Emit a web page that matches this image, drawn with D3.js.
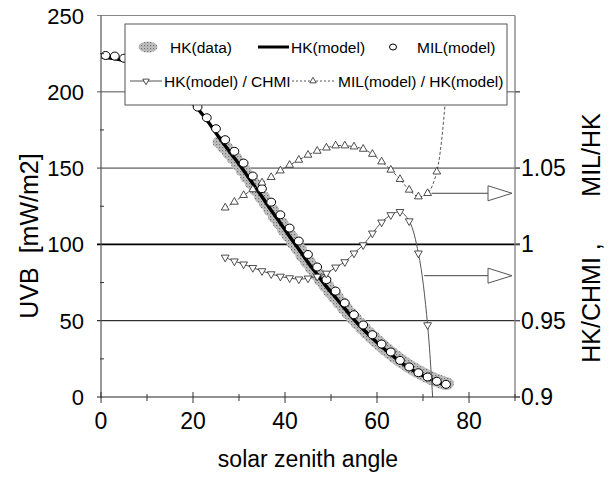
<!DOCTYPE html>
<html>
<head>
<meta charset="utf-8">
<script src="https://cdn.jsdelivr.net/npm/d3@7"></script>
<style>
  body { margin: 0; background: #fff; }
  text { font-family: "Liberation Sans", Arial, sans-serif; fill: #000; }
</style>
</head>
<body>
<svg id="chart" width="612" height="477"></svg>
<script>
// MIL(model), open circles every 2 degrees
var milX = [1, 3, 5, 7, 9, 11, 13, 15, 17, 19, 21, 23, 25, 27, 29, 31, 33, 35, 37, 39, 41, 43, 45, 47, 49, 51, 53, 55, 57, 59, 61, 63, 65, 67, 69, 71, 73, 75];
var milUVB = [223.8, 223.4, 222, 220.6, 218.5, 215.5, 211.8, 207.5, 202, 196.3, 190, 183, 175.8, 168.6, 161, 153.3, 144.8, 136.5, 127.7, 119.4, 110.7, 102.2, 93.4, 85.2, 76.9, 69.4, 61.6, 53.9, 47.2, 40.8, 34.7, 29.5, 24.0, 19.7, 15.9, 13.1, 10.3, 8.3];

// HK(model), thick black line
var modelX = [0, 5, 10, 15, 20, 21, 23, 25, 27, 29, 31, 33, 35, 37, 39, 41, 43, 45, 47, 49, 51, 53, 55, 57, 59, 61, 63, 65, 67, 69, 71, 73, 75];
var modelUVB = [223, 220.5, 215, 205.5, 192, 189, 181.5, 173, 164.6, 156.6, 148.5, 139.8, 131.2, 122.3, 113.9, 105.2, 96.8, 88.2, 80.3, 72.3, 65.2, 57.9, 50.7, 44.4, 38.5, 32.9, 28.1, 23.0, 19.0, 15.4, 12.7, 9.8, 7.5];

// HK(data), measured points (grey blob)
var dataX = [26, 27, 28, 29, 30, 31, 32, 33, 34, 35, 36, 37, 38, 39, 40, 41, 42, 43, 44, 45, 46, 47, 48, 49, 50, 51, 52, 53, 54, 55, 56, 57, 58, 59, 60, 61, 62, 63, 64, 65, 66, 67, 68, 69, 70, 71, 72, 73, 74, 75];
var dataUVB = [167, 163.5, 160, 156.5, 152.5, 148.5, 144, 140, 135.5, 131, 127, 122.5, 118, 114, 109.5, 105.5, 101, 97, 92.5, 88.5, 84.5, 80.5, 76.5, 72.8, 69, 65.5, 61.8, 58.3, 54.8, 51.5, 48.2, 45, 42, 39.2, 36.4, 33.8, 31.2, 28.8, 26.4, 24.2, 22.1, 20.1, 18.3, 16.6, 15, 13.5, 12.1, 10.9, 9.8, 8.8];

// ratios on the right axis
var chmiX = [27, 29, 31, 33, 35, 37, 39, 41, 43, 45, 47, 49, 51, 53, 55, 57, 59, 61, 63, 65, 67, 69, 71, 73];
var hkChmi = [0.9915, 0.989, 0.987, 0.9847, 0.9826, 0.9806, 0.979, 0.978, 0.9772, 0.9778, 0.979, 0.981, 0.985, 0.9885, 0.9942, 0.9996, 1.0073, 1.0145, 1.0193, 1.0214, 1.0153, 0.9942, 0.9472, 0.85];
var milHkX = [27, 29, 31, 33, 35, 37, 39, 41, 43, 45, 47, 49, 51, 53, 55, 57, 59, 61, 63, 65, 67, 69, 71, 73, 75];
var milHk = [1.024, 1.0278, 1.0322, 1.036, 1.0404, 1.044, 1.0483, 1.052, 1.0553, 1.0586, 1.0612, 1.0633, 1.0647, 1.0647, 1.064, 1.0625, 1.0592, 1.0542, 1.0488, 1.0427, 1.0357, 1.0313, 1.0335, 1.0476, 1.10];

var xTicks = [0, 20, 40, 60, 80];
var yTicks = [0, 50, 100, 150, 200, 250];
var rTicks = [0.9, 0.95, 1, 1.05];
var rTickLabels = ['0.9', '0.95', '1', '1.05'];

// arrows pointing to the right axis: start (x, ratio)
var arrowX = [71.2, 69.6];
var arrowR = [1.0335, 0.9795];

(function() {
  var svg = d3.select('#chart');
  var pl = 101, pr = 515, pt = 15.5, pb = 397;

  var x = d3.scaleLinear().domain([0, 90]).range([pl, pr]);
  var y = d3.scaleLinear().domain([0, 250]).range([pb, pt]);
  var yr = d3.scaleLinear().domain([0.9, 1.15]).range([pb, pt]);

  // stipple pattern for the measured data
  var defs = svg.append('defs');
  var pat = defs.append('pattern').attr('id', 'stip').attr('patternUnits', 'userSpaceOnUse')
    .attr('width', 3).attr('height', 3);
  pat.append('rect').attr('width', 3).attr('height', 3).attr('fill', '#c4c4c4');
  pat.append('rect').attr('width', 1.2).attr('height', 1.2).attr('fill', '#707070');
  pat.append('rect').attr('x', 1.5).attr('y', 1.5).attr('width', 1).attr('height', 1).attr('fill', '#999');
  defs.append('clipPath').attr('id', 'plot').append('rect')
    .attr('x', pl).attr('y', pt).attr('width', pr - pl).attr('height', pb - pt);

  // gridlines
  var gridStyle = {50: ['#000', 1], 100: ['#000', 1.6], 150: ['#8c8c8c', 1.6], 200: ['#8c8c8c', 1.6]};
  [50, 100, 150, 200].forEach(function(v) {
    svg.append('line').attr('x1', pl - 4).attr('x2', pr + 5)
      .attr('y1', y(v)).attr('y2', y(v))
      .attr('stroke', gridStyle[v][0]).attr('stroke-width', gridStyle[v][1]);
  });
  svg.append('line').attr('x1', pl - 4).attr('x2', pr).attr('y1', pt).attr('y2', pt)
    .attr('stroke', '#888').attr('stroke-width', 1.2);

  var plot = svg.append('g').attr('clip-path', 'url(#plot)');

  // HK(data) blob
  plot.append('g').selectAll('ellipse').data(dataX).enter().append('ellipse')
    .attr('cx', function(d) { return x(d); })
    .attr('cy', function(d, i) { return y(dataUVB[i]); })
    .attr('rx', 8).attr('ry', 6.5)
    .attr('fill', 'url(#stip)');

  // HK(model) line
  var line = d3.line().curve(d3.curveCatmullRom);
  plot.append('path')
    .attr('d', line(modelX.map(function(d, i) { return [x(d), y(modelUVB[i])]; })))
    .attr('fill', 'none').attr('stroke', '#000').attr('stroke-width', 3.4);

  // MIL(model) circles
  plot.append('g').selectAll('ellipse').data(milX).enter().append('ellipse')
    .attr('cx', function(d) { return x(d); })
    .attr('cy', function(d, i) { return y(milUVB[i]); })
    .attr('rx', 4.4).attr('ry', 4)
    .attr('fill', '#fff').attr('stroke', '#000').attr('stroke-width', 1);

  // ratio lines
  plot.append('path')
    .attr('d', line(chmiX.map(function(d, i) { return [x(d), yr(hkChmi[i])]; })))
    .attr('fill', 'none').attr('stroke', '#555').attr('stroke-width', 1);
  plot.append('path')
    .attr('d', line(milHkX.map(function(d, i) { return [x(d), yr(milHk[i])]; })))
    .attr('fill', 'none').attr('stroke', '#555').attr('stroke-width', 1).attr('stroke-dasharray', '3,2');

  var tri = d3.symbol().type(d3.symbolTriangle).size(26);
  plot.append('g').selectAll('path').data(chmiX).enter().append('path')
    .attr('d', tri)
    .attr('transform', function(d, i) { return 'translate(' + x(d) + ',' + yr(hkChmi[i]) + ') rotate(180)'; })
    .attr('fill', '#fff').attr('stroke', '#222').attr('stroke-width', 0.8);
  plot.append('g').selectAll('path').data(milHkX).enter().append('path')
    .attr('d', tri)
    .attr('transform', function(d, i) { return 'translate(' + x(d) + ',' + yr(milHk[i]) + ')'; })
    .attr('fill', '#fff').attr('stroke', '#222').attr('stroke-width', 0.8);

  // legend
  var lg = svg.append('g');
  var fs = 15.5;
  lg.append('rect').attr('x', 125).attr('y', 24).attr('width', 382).attr('height', 81)
    .attr('fill', '#fff').attr('stroke', '#555').attr('stroke-width', 1);
  lg.append('ellipse').attr('cx', 148).attr('cy', 47).attr('rx', 9.5).attr('ry', 5.5).attr('fill', 'url(#stip)');
  lg.append('text').attr('x', 170).attr('y', 53).attr('font-size', fs).text('HK(data)');
  lg.append('line').attr('x1', 258).attr('x2', 289).attr('y1', 47).attr('y2', 47).attr('stroke', '#000').attr('stroke-width', 3);
  lg.append('text').attr('x', 291).attr('y', 53).attr('font-size', fs).text('HK(model)');
  lg.append('ellipse').attr('cx', 393).attr('cy', 47).attr('rx', 3.5).attr('ry', 3).attr('fill', '#fff').attr('stroke', '#000');
  lg.append('text').attr('x', 417).attr('y', 53).attr('font-size', fs).text('MIL(model)');
  lg.append('line').attr('x1', 130).attr('x2', 162).attr('y1', 81).attr('y2', 81).attr('stroke', '#555');
  lg.append('path').attr('d', d3.symbol().type(d3.symbolTriangle).size(18))
    .attr('transform', 'translate(146,81) rotate(180)').attr('fill', '#fff').attr('stroke', '#222').attr('stroke-width', 0.8);
  lg.append('text').attr('x', 164).attr('y', 87).attr('font-size', fs).text('HK(model) / CHMI');
  lg.append('line').attr('x1', 292).attr('x2', 334).attr('y1', 81).attr('y2', 81).attr('stroke', '#555').attr('stroke-dasharray', '2,2');
  lg.append('path').attr('d', d3.symbol().type(d3.symbolTriangle).size(18))
    .attr('transform', 'translate(313,81)').attr('fill', '#fff').attr('stroke', '#222').attr('stroke-width', 0.8);
  lg.append('text').attr('x', 338).attr('y', 87).attr('font-size', fs).text('MIL(model) / HK(model)');

  // arrows
  arrowX.forEach(function(ax, i) {
    var ay = yr(arrowR[i]);
    svg.append('line').attr('x1', x(ax) + 3).attr('x2', 488).attr('y1', ay).attr('y2', ay)
      .attr('stroke', '#444').attr('stroke-width', 1);
    svg.append('path').attr('d', 'M488,' + (ay - 7.5) + 'L512,' + ay + 'L488,' + (ay + 7.5) + 'Z')
      .attr('fill', '#fff').attr('stroke', '#555').attr('stroke-width', 1);
  });

  // axes
  svg.append('line').attr('x1', pl).attr('x2', pl).attr('y1', pt).attr('y2', pb + 1)
    .attr('stroke', '#555').attr('stroke-width', 1.2);
  svg.append('line').attr('x1', pr).attr('x2', pr).attr('y1', pt).attr('y2', pb + 1)
    .attr('stroke', '#888').attr('stroke-width', 1.4);
  svg.append('line').attr('x1', pl - 4).attr('x2', pr + 5).attr('y1', pb).attr('y2', pb)
    .attr('stroke', '#222').attr('stroke-width', 1.2);

  // minor ticks left axis
  d3.range(25, 250, 50).forEach(function(v) {
    svg.append('line').attr('x1', pl - 1).attr('x2', pl + 3).attr('y1', y(v)).attr('y2', y(v))
      .attr('stroke', '#333');
  });
  // x ticks
  d3.range(0, 91, 10).forEach(function(v) {
    var major = v % 20 === 0;
    svg.append('line').attr('x1', x(v)).attr('x2', x(v))
      .attr('y1', pb - (major ? 5 : 3)).attr('y2', pb + (major ? 6 : 4))
      .attr('stroke', '#333');
  });
  // right ticks
  d3.range(0, 5).forEach(function(k) {
    var v = 0.9 + k * 0.05;
    svg.append('line').attr('x1', pr).attr('x2', pr + 5).attr('y1', yr(v)).attr('y2', yr(v))
      .attr('stroke', '#555');
  });

  svg.append('g').selectAll('text').data(yTicks).enter().append('text')
    .attr('x', 84).attr('y', function(d) { return y(d) + 8; })
    .attr('text-anchor', 'end').attr('font-size', 22).text(function(d) { return d; });
  svg.append('g').selectAll('text').data(xTicks).enter().append('text')
    .attr('x', function(d) { return x(d); }).attr('y', 429)
    .attr('text-anchor', 'middle').attr('font-size', 23).text(function(d) { return d; });
  svg.append('g').selectAll('text').data(rTicks).enter().append('text')
    .attr('x', 521).attr('y', function(d) { return yr(d) + 8; })
    .attr('font-size', 23).text(function(d, i) { return rTickLabels[i]; });

  svg.append('text').attr('x', 308).attr('y', 467)
    .attr('text-anchor', 'middle').attr('font-size', 23).text('solar zenith angle');
  svg.append('text').attr('transform', 'translate(38,236) rotate(-90)')
    .attr('text-anchor', 'middle').attr('font-size', 25).text('UVB\u00a0 [mW/m2]');
  svg.append('text').attr('transform', 'translate(600,155) rotate(-90)')
    .attr('text-anchor', 'middle').attr('font-size', 25).text('MIL/HK');
  svg.append('text').attr('transform', 'translate(600,303) rotate(-90)')
    .attr('text-anchor', 'middle').attr('font-size', 25).text('HK/CHMI ,');
})();
</script>
</body>
</html>
